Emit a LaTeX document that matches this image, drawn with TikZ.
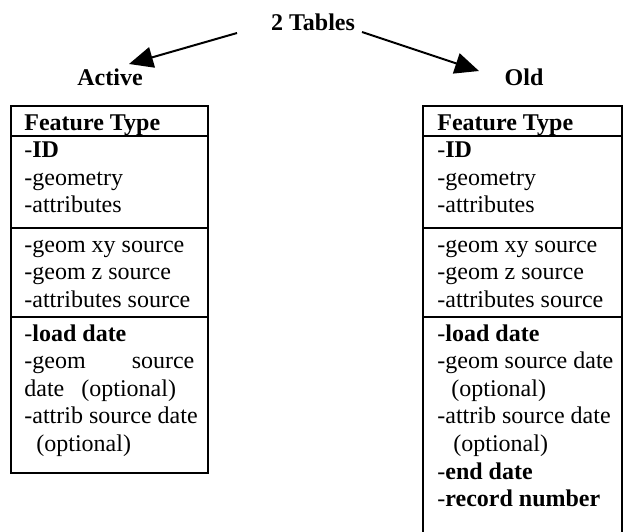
\documentclass[tikz,border=0pt]{standalone}
\usepackage{fontspec}
\setmainfont{Liberation Serif}
\usetikzlibrary{arrows.meta,positioning}

\begin{document}
\begin{tikzpicture}[x=0.5pt,y=-0.5pt,
  lbl/.style={font=\fontsize{12}{13.8}\selectfont\bfseries,inner sep=0pt,anchor=base},
  row/.style={font=\fontsize{12}{13.8}\selectfont,inner sep=0pt,anchor=base west},
  tbl/.style={line width=1pt},
  arr/.style={-{Triangle[length=12pt,width=10.5pt]},line width=1pt}
]
  \useasboundingbox (0,0) rectangle (626,531);
  \clip (0,0) rectangle (626,531);
  % heading
  \node[lbl] (tables) at (313,30) {2 Tables};
  \node[lbl] (active) at (110,85) {Active};
  \node[lbl] (old) at (524,85) {Old};
  \coordinate (ltail) at (237,33);
  \coordinate (ltip) at (129,64);
  \coordinate (rtail) at (362,32);
  \coordinate (rtip) at (479,71);
  \draw[arr] (ltail) -- (ltip);
  \draw[arr] (rtail) -- (rtip);
  % Active table
  \draw[tbl] (11,106) rectangle (208,473);
  \foreach \y in {136,228,317} \draw[tbl] (11,\y) -- (208,\y);
  % Old table (runs on below)
  \draw[tbl] (423,540) -- (423,106) -- (622,106) -- (622,540);
  \foreach \y in {136,228,317} \draw[tbl] (423,\y) -- (622,\y);
  % rows both tables share
  \foreach \x/\t in {24/a,437/o}{
    \node[row] (\t head) at (\x,130) {\textbf{Feature Type}};
    \node[row] (\t id) at (\x,157.6) {-\textbf{ID}};
    \node[row] (\t geo) at (\x,185.2) {-geometry};
    \node[row] (\t att) at (\x,212.8) {-attributes};
    \node[row] (\t xy) at (\x,252) {-geom xy source};
    \node[row] (\t z) at (\x,279.6) {-geom z source};
    \node[row] (\t atts) at (\x,307.2) {-attributes source};
    \node[row] (\t load) at (\x,341) {-\textbf{load date}};
  }
  % Active only
  \node[row] (ageods) at (24,368.6) {\hbox to 85pt{-geom\hfill source}};
  \node[row] (ageoopt) at (24,396.2) {date\hspace*{8.5pt}(optional)};
  \node[row] (aattds) at (24,423.8) {-attrib source date};
  \node[row] (aattopt) at (24,451.4) {\hspace*{6pt}(optional)};
  % Old only
  \node[row] (ogeods) at (437,368.6) {-geom source date};
  \node[row] (ogeoopt) at (437,396.2) {\hspace*{7pt}(optional)};
  \node[row] (oattds) at (437,423.8) {-attrib source date};
  \node[row] (oattopt) at (437,451.4) {\hspace*{8pt}(optional)};
  \node[row] (oend) at (437,479) {-\textbf{end date}};
  \node[row] (orec) at (437,506.6) {-\textbf{record number}};
\end{tikzpicture}
\end{document}
